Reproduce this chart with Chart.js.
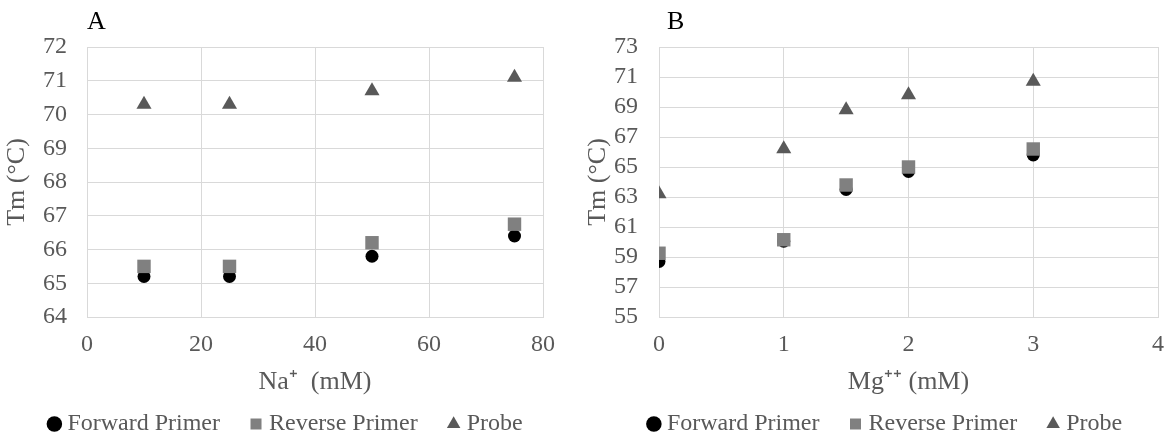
<!DOCTYPE html>
<html>
<head>
<meta charset="utf-8">
<script src="https://cdn.jsdelivr.net/npm/chart.js@4"></script>
<style>
  body { margin: 0; background: #fff; }
  #wrap { position: relative; width: 1168px; height: 437px; }
  canvas { position: absolute; top: 0; }
  #na { left: 0; }
  #mg { left: 584px; }
</style>
</head>
<body>
<div id="wrap">
  <canvas id="na" width="584" height="437"></canvas>
  <canvas id="mg" width="584" height="437"></canvas>
</div>
<script>
// panel A - sodium
var naLevels = [10, 25, 50, 75];
var naForward = [65.2, 65.2, 65.8, 66.4];
var naReverse = [65.5, 65.5, 66.2, 66.75];
var naProbe = [70.3, 70.3, 70.7, 71.1];

// panel B - magnesium
var mgLevels = [0, 1, 1.5, 2, 3];
var mgForward = [58.7, 60.05, 63.5, 64.7, 65.8];
var mgReverse = [59.25, 60.15, 63.8, 65.0, 66.2];
var mgProbe = [63.2, 66.2, 68.8, 69.8, 70.7];

var seriesNames = ['Forward Primer', 'Reverse Primer', 'Probe'];

var serif = '"Liberation Serif", "Times New Roman", serif';
var textGrey = '#595959';
var gridGrey = '#d9d9d9';

function points(xs, ys) {
    return xs.map(function(x, i) { return {x: x, y: ys[i]}; });
}

// draws the "A" / "B" letter above the plot
var panelLetter = {
    id: 'panelLetter',
    afterDraw: function(chart, args, opts) {
        var ctx = chart.ctx;
        ctx.save();
        ctx.font = '26px ' + serif;
        ctx.fillStyle = '#000';
        ctx.textBaseline = 'middle';
        ctx.textAlign = 'left';
        ctx.fillText(opts.text, chart.chartArea.left + opts.dx, opts.y);
        ctx.restore();
    }
};

function makeChart(id, cfg) {
    var ctx = document.getElementById(id).getContext('2d');
    return new Chart(ctx, {
        type: 'scatter',
        data: {
            datasets: [{
                label: seriesNames[0],
                data: points(cfg.xs, cfg.forward),
                pointStyle: 'circle',
                pointRadius: 6.5,
                backgroundColor: '#000000',
                borderColor: '#000000',
                pointBorderWidth: 0,
                order: 2
            }, {
                label: seriesNames[1],
                data: points(cfg.xs, cfg.reverse),
                pointStyle: 'rect',
                pointRadius: 9.5,
                backgroundColor: '#808080',
                borderColor: '#808080',
                pointBorderWidth: 0,
                order: 1
            }, {
                label: seriesNames[2],
                data: points(cfg.xs, cfg.probe),
                pointStyle: 'triangle',
                pointRadius: 8.7,
                backgroundColor: '#595959',
                borderColor: '#595959',
                pointBorderWidth: 0,
                order: 0
            }]
        },
        options: {
            responsive: false,
            animation: false,
            layout: {
                // left padding only moves the legend centre; the y axis width is fixed below
                padding: {top: 47, left: cfg.padLeft, right: 0, bottom: -9}
            },
            scales: {
                x: {
                    type: 'linear',
                    min: cfg.xMin,
                    max: cfg.xMax,
                    ticks: {
                        stepSize: cfg.xStep,
                        autoSkip: false,
                        color: textGrey,
                        padding: 13,
                        font: {family: serif, size: 24}
                    },
                    grid: {color: gridGrey, drawTicks: false},
                    border: {color: gridGrey},
                    title: {
                        display: true,
                        text: cfg.xTitle,
                        color: textGrey,
                        font: {family: serif, size: 26},
                        padding: {top: 0, bottom: -21}
                    },
                    afterFit: function(scale) {
                        scale.height = 60;
                        scale.paddingRight = cfg.gapRight;
                    }
                },
                y: {
                    min: cfg.yMin,
                    max: cfg.yMax,
                    ticks: {
                        stepSize: cfg.yStep,
                        autoSkip: false,
                        color: textGrey,
                        padding: cfg.yPad,
                        font: {family: serif, size: 24}
                    },
                    grid: {color: gridGrey, drawTicks: false},
                    border: {color: gridGrey},
                    title: {
                        display: true,
                        text: 'Tm (°C)',
                        color: textGrey,
                        font: {family: serif, size: 26},
                        padding: {top: cfg.yTitlePad, bottom: 0}
                    },
                    afterFit: function(scale) { scale.width = cfg.left - cfg.padLeft; }
                }
            },
            plugins: {
                legend: {
                    position: 'bottom',
                    labels: {
                        usePointStyle: true,
                        boxWidth: 2,
                        boxHeight: 11,
                        padding: 35,
                        color: textGrey,
                        font: {family: serif, size: 24},
                        sort: function(a, b) { return a.datasetIndex - b.datasetIndex; }
                    }
                },
                tooltip: {enabled: false},
                panelLetter: {text: cfg.letter, dx: cfg.letterDx, y: 22}
            }
        },
        plugins: [panelLetter]
    });
}

window.onload = function() {

makeChart('na', {
    xs: naLevels, forward: naForward, reverse: naReverse, probe: naProbe,
    xMin: 0, xMax: 80, xStep: 20,
    yMin: 64, yMax: 72, yStep: 1,
    xTitle: 'Na\u207A  (mM)',
    left: 87, padLeft: -8, gapRight: 41, yPad: 20, yTitlePad: 9.4,
    letter: 'A', letterDx: 0
});

makeChart('mg', {
    xs: mgLevels, forward: mgForward, reverse: mgReverse, probe: mgProbe,
    xMin: 0, xMax: 4, xStep: 1,
    yMin: 55, yMax: 73, yStep: 2,
    xTitle: 'Mg\u207A\u207A (mM)',
    left: 75, padLeft: 23, gapRight: 10, yPad: 21, yTitlePad: -24.6,
    letter: 'B', letterDx: 8
});

}
</script>
</body>
</html>
